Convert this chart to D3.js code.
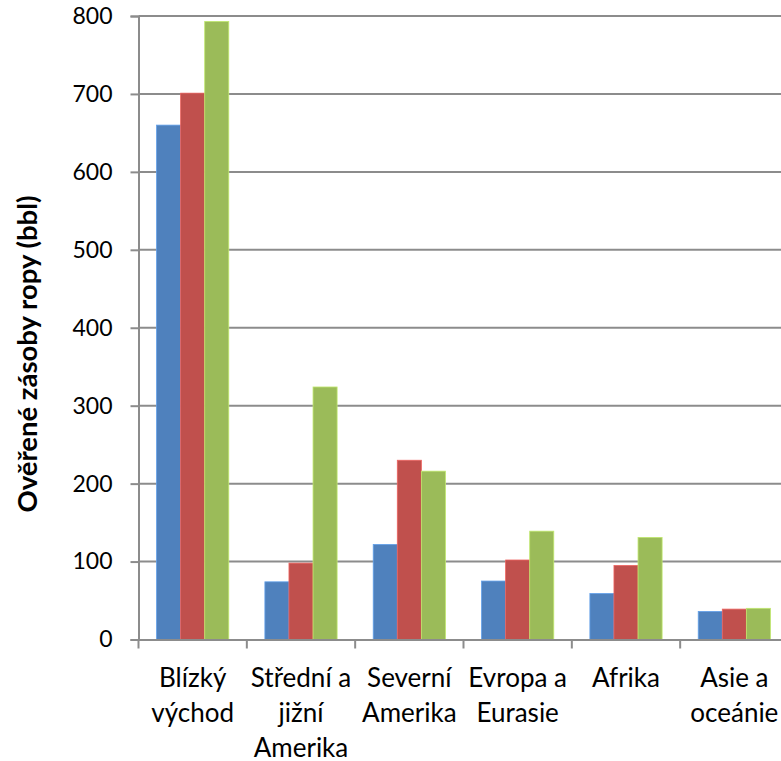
<!DOCTYPE html>
<html>
<head>
<meta charset="utf-8">
<script src="https://cdn.jsdelivr.net/npm/d3@7"></script>
<style>
  html, body { margin: 0; padding: 0; background: #fff; }
  svg { display: block; font-family: Lato, "Open Sans", sans-serif; }
</style>
</head>
<body>
<svg id="chart" width="781" height="761"></svg>
<script>
// Regions (each label split into its display lines)
const categories = ["Blízký východ", "Střední a jižní Amerika", "Severní Amerika", "Evropa a Eurasie", "Afrika", "Asie a oceánie"];
const categoryLines = [
  ["Blízký", "východ"],
  ["Střední a", "jižní", "Amerika"],
  ["Severní", "Amerika"],
  ["Evropa a", "Eurasie"],
  ["Afrika"],
  ["Asie a", "oceánie"]
];

// Proven reserves, three series per region
const seriesA = [660, 74, 122, 75, 59, 36];
const seriesB = [701, 98, 230, 102, 95, 39];
const seriesC = [793, 324, 216, 139, 131, 40];
const seriesColors = ["#4F81BD", "#C0504D", "#9BBB59"];

const yTicks = [0, 100, 200, 300, 400, 500, 600, 700, 800];
const yTitle = "Ověřené zásoby ropy (bbl)";

const series = [seriesA, seriesB, seriesC];

const svg = d3.select("#chart");

const plot = { left: 138.5, right: 788.5, top: 16, bottom: 639.5 };

const x = d3.scaleBand()
  .domain(categories)
  .range([plot.left, plot.right])
  .paddingInner(0)
  .paddingOuter(0);

// Excel-style gap width of 150%: bar width = band / (3 + 1.5)
const barW = x.bandwidth() / 4.5;
const xs = d3.scaleBand()
  .domain(d3.range(series.length))
  .range([barW * 0.75, barW * 0.75 + barW * series.length])
  .padding(0);

const y = d3.scaleLinear()
  .domain([0, 800])
  .range([plot.bottom, plot.top]);

// Horizontal gridlines
svg.append("g")
  .selectAll("line")
  .data(yTicks.filter(d => d > 0))
  .join("line")
  .attr("x1", plot.left)
  .attr("x2", 781)
  .attr("y1", d => y(d))
  .attr("y2", d => y(d))
  .attr("stroke", "#8c8c8c")
  .attr("stroke-width", 2);

// Bars
const groups = svg.append("g")
  .selectAll("g")
  .data(series)
  .join("g")
  .attr("fill", (d, i) => seriesColors[i]);

groups.each(function (vals, si) {
  d3.select(this).selectAll("rect")
    .data(vals)
    .join("rect")
    .attr("x", (d, ci) => x(categories[ci]) + xs(si))
    .attr("y", d => y(d))
    .attr("width", xs.bandwidth())
    .attr("height", d => y(0) - y(d))
    .attr("stroke", d3.color(seriesColors[si]).brighter(0.6))
    .attr("stroke-width", 0.8);
});

// Y axis
const yAxis = d3.axisLeft(y)
  .tickValues(yTicks)
  .tickSize(8)
  .tickPadding(18)
  .tickFormat(d3.format("d"));

const gy = svg.append("g")
  .attr("transform", `translate(${plot.left},0)`)
  .call(yAxis);
gy.select(".domain").attr("stroke", "#8c8c8c").attr("stroke-width", 2);
gy.selectAll(".tick line").attr("stroke", "#8c8c8c").attr("stroke-width", 2);
gy.selectAll(".tick text")
  .attr("font-size", 23)
  .attr("font-family", "Lato, sans-serif")
  .attr("fill", "#000");

// X axis
const xAxis = d3.axisBottom(x)
  .tickSizeInner(9)
  .tickSizeOuter(0)
  .tickFormat("");

const gx = svg.append("g")
  .attr("transform", `translate(0,${plot.bottom})`)
  .call(xAxis);
gx.select(".domain").attr("stroke", "#8c8c8c").attr("stroke-width", 2);
// ticks at category boundaries
gx.selectAll(".tick").remove();
gx.selectAll("line.boundary")
  .data(categories)
  .join("line")
  .attr("class", "boundary")
  .attr("x1", d => x(d))
  .attr("x2", d => x(d))
  .attr("y1", 0)
  .attr("y2", 9)
  .attr("stroke", "#8c8c8c")
  .attr("stroke-width", 2);

// Category labels
const labels = svg.append("g")
  .selectAll("text")
  .data(categories)
  .join("text")
  .attr("text-anchor", "middle")
  .attr("font-size", 26)
  .attr("fill", "#000")
  .attr("transform", d => `translate(${x(d) + x.bandwidth() / 2},686.5)`);

labels.each(function (d, i) {
  d3.select(this).selectAll("tspan")
    .data(categoryLines[i])
    .join("tspan")
    .attr("x", 0)
    .attr("y", (t, j) => j * 35)
    .text(t => t);
});

// Y axis title
svg.append("text")
  .attr("transform", "translate(37,354) rotate(-90)")
  .attr("text-anchor", "middle")
  .attr("font-size", 27.5)
  .attr("font-weight", "bold")
  .attr("fill", "#000")
  .text(yTitle);
</script>
</body>
</html>
